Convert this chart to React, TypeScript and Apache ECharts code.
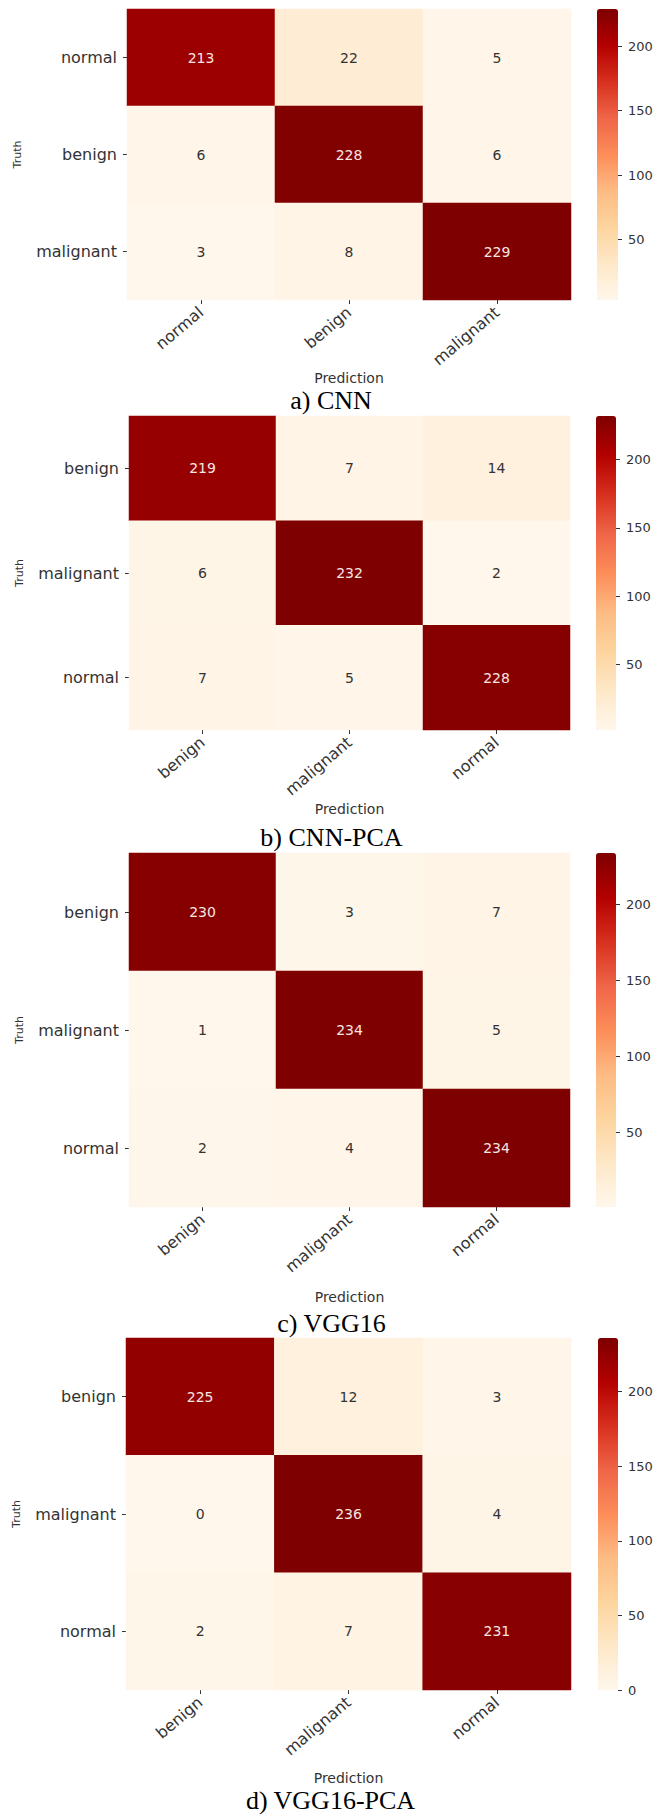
import React, { useEffect, useRef } from 'react';
import * as echarts from 'echarts';

// ---- data ----
const classesA = ['normal', 'benign', 'malignant'];
const classesB = ['benign', 'malignant', 'normal'];

const cnnMatrix = [
  [213, 22, 5],
  [6, 228, 6],
  [3, 8, 229],
];
const cnnPcaMatrix = [
  [219, 7, 14],
  [6, 232, 2],
  [7, 5, 228],
];
const vggMatrix = [
  [230, 3, 7],
  [1, 234, 5],
  [2, 4, 234],
];
const vggPcaMatrix = [
  [225, 12, 3],
  [0, 236, 4],
  [2, 7, 231],
];
const captions = ['a) CNN', 'b) CNN-PCA', 'c) VGG16', 'd) VGG16-PCA'];
const colorbarTickValues = [0, 50, 100, 150, 200];
const xAxisTitle = 'Prediction';
const yAxisTitle = 'Truth';

// ---- styles / layout ----
const OrRd = ['#fff7ec', '#fee8c8', '#fdd49e', '#fdbb84', '#fc8d59', '#ef6548', '#d7301f', '#b30000', '#7f0000'];
const FONT = 'DejaVu Sans';
const TEXT = '#333333';

const panels = [
  { classes: classesA, matrix: cnnMatrix, top: 9, bottom: 300, left: 127, right: 571, cbLeft: 597, cbRight: 618, pred: 373, cap: 400 },
  { classes: classesB, matrix: cnnPcaMatrix, top: 416, bottom: 730, left: 129, right: 570, cbLeft: 596, cbRight: 616, pred: 809, cap: 837 },
  { classes: classesB, matrix: vggMatrix, top: 853, bottom: 1207, left: 129, right: 570, cbLeft: 596, cbRight: 616, pred: 1297, cap: 1323 },
  { classes: classesB, matrix: vggPcaMatrix, top: 1338, bottom: 1690, left: 126, right: 571, cbLeft: 598, cbRight: 618, pred: 1778, cap: 1800 },
];

function buildOption() {
  const grid: any[] = [];
  const xAxis: any[] = [];
  const yAxis: any[] = [];
  const series: any[] = [];
  const visualMap: any[] = [];
  const graphic: any[] = [];

  panels.forEach((p, i) => {
    const flat = p.matrix.flat();
    const vmin = Math.min(...flat);
    const vmax = Math.max(...flat);
    const h = p.bottom - p.top;
    const w = p.right - p.left;
    const cbW = p.cbRight - p.cbLeft;
    const cbTicks = colorbarTickValues.filter((v) => v >= vmin && v <= vmax);

    grid.push({ left: p.left, top: p.top, width: w, height: h, containLabel: false, outerBoundsMode: 'none' });
    grid.push({ left: p.cbLeft, top: p.top, width: cbW, height: h, containLabel: false, outerBoundsMode: 'none' });

    xAxis.push({
      type: 'category',
      gridIndex: 2 * i,
      data: p.classes,
      position: 'bottom',
      axisLine: { show: false },
      axisTick: { show: true, alignWithLabel: true, length: 4, lineStyle: { color: TEXT } },
      axisLabel: { rotate: 40, margin: 10, color: TEXT, fontSize: 16, fontFamily: FONT },
      splitLine: { show: false },
      name: xAxisTitle,
      nameLocation: 'middle',
      nameGap: p.pred - p.bottom - 7,
      nameTextStyle: { color: TEXT, fontSize: 14, fontFamily: FONT },
    });
    xAxis.push({ type: 'category', gridIndex: 2 * i + 1, data: [''], show: false });

    yAxis.push({
      type: 'category',
      gridIndex: 2 * i,
      data: p.classes,
      inverse: true,
      axisLine: { show: false },
      axisTick: { show: true, alignWithLabel: true, length: 4, lineStyle: { color: TEXT } },
      axisLabel: { margin: 10, color: TEXT, fontSize: 16, fontFamily: FONT },
      splitLine: { show: false },
      name: yAxisTitle,
      nameLocation: 'middle',
      nameRotate: 90,
      nameGap: 104,
      nameTextStyle: { color: TEXT, fontSize: 11, fontFamily: FONT },
    });
    yAxis.push({
      type: 'value',
      gridIndex: 2 * i + 1,
      position: 'right',
      min: vmin,
      max: vmax,
      axisLine: { show: false },
      splitLine: { show: false },
      axisTick: { show: true, length: 4, lineStyle: { color: TEXT }, customValues: cbTicks },
      axisLabel: { margin: 10, color: TEXT, fontSize: 13, fontFamily: FONT, customValues: cbTicks },
    });

    const mid = (vmin + vmax) / 2;
    const data: any[] = [];
    p.matrix.forEach((row, r) =>
      row.forEach((v, c) => {
        data.push({
          value: [c, r, v],
          label: { color: v > mid ? '#f6e6e2' : TEXT },
        });
      })
    );
    series.push({
      type: 'heatmap',
      xAxisIndex: 2 * i,
      yAxisIndex: 2 * i,
      data,
      label: { show: true, fontSize: 14, fontFamily: FONT, formatter: (d: any) => String(d.value[2]) },
      itemStyle: { borderWidth: 0 },
      emphasis: { disabled: true },
    });

    visualMap.push({
      type: 'continuous',
      seriesIndex: i,
      dimension: 2,
      min: vmin,
      max: vmax,
      inRange: { color: OrRd },
      orient: 'vertical',
      left: p.cbLeft,
      top: p.top,
      itemWidth: cbW,
      itemHeight: h,
      padding: 0,
      calculable: false,
      hoverLink: false,
      show: true,
    });

    graphic.push({
      type: 'text',
      x: (p.left + p.right) / 2 - 18,
      y: p.cap,
      style: {
        text: captions[i],
        fill: '#000',
        font: '26px "Liberation Serif", "Times New Roman", serif',
        textAlign: 'center',
        textVerticalAlign: 'middle',
      },
    });
  });

  return { animation: false, backgroundColor: '#ffffff', grid, xAxis, yAxis, series, visualMap, graphic };
}

export default function App() {
  const ref = useRef<HTMLDivElement>(null);
  useEffect(() => {
    if (!ref.current) return;
    const chart = echarts.init(ref.current, null, { renderer: 'svg' });
    chart.setOption(buildOption() as any);
    return () => chart.dispose();
  }, []);
  return (
    <div
      ref={ref}
      style={{ position: 'absolute', left: 0, top: 0, width: 657, height: 1815, background: '#fff' }}
    />
  );
}
